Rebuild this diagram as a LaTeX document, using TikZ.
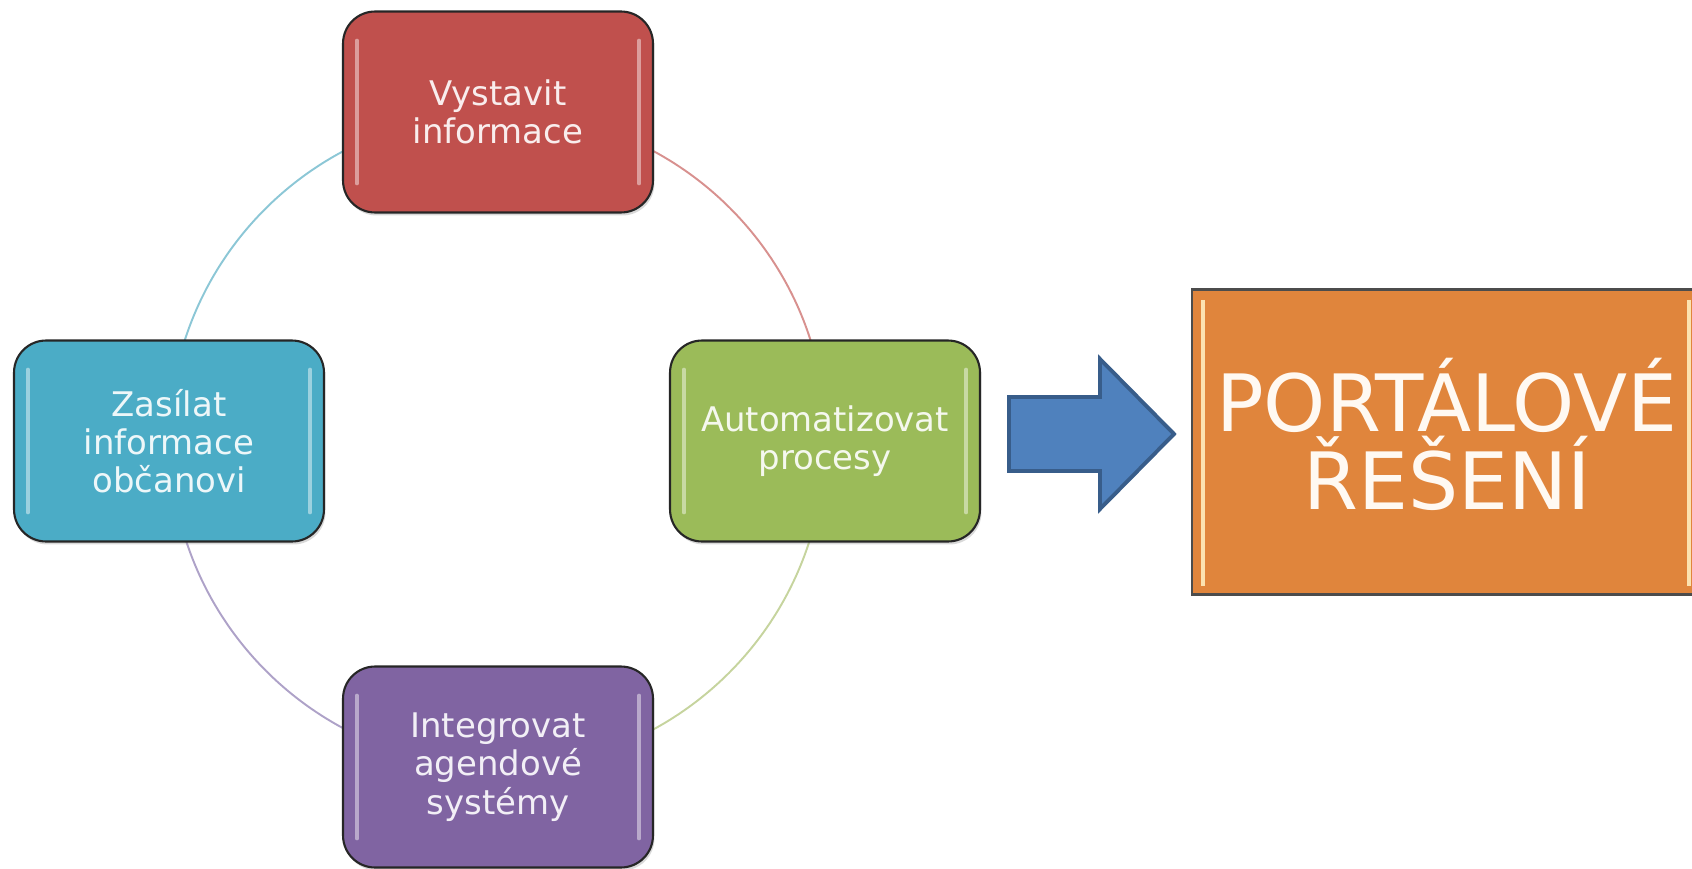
\documentclass[tikz,border=0pt]{standalone}
\usepackage{fontspec}
\setmainfont{DejaVu Sans}
\usetikzlibrary{shadows,backgrounds}

\definecolor{boxred}{HTML}{C0504D}
\definecolor{boxgreen}{HTML}{9BBB59}
\definecolor{boxpurple}{HTML}{8064A2}
\definecolor{boxblue}{HTML}{4BACC6}
\definecolor{boxorange}{HTML}{E0853C}
\definecolor{arrowfill}{HTML}{4F81BD}
\definecolor{arrowline}{HTML}{385D8A}
\definecolor{ringred}{HTML}{D8918F}
\definecolor{ringgreen}{HTML}{C6D49E}
\definecolor{ringpurple}{HTML}{AEA2C8}
\definecolor{ringblue}{HTML}{8CC7D6}
\definecolor{creamline}{HTML}{FCE2B0}

\tikzset{
  cyclebox/.style={draw=black!85, line width=1.2pt, rounded corners=0.64cm,
    minimum width=6.2cm, minimum height=4.02cm, align=center,
    font=\fontsize{19.3}{21.8}\selectfont, fill=#1, text=white!90!#1,
    drop shadow={opacity=0.3, shadow xshift=0.03cm, shadow yshift=-0.06cm}},
  shine/.style={white, opacity=0.45, line width=2pt, line cap=round},
  ring/.style={line width=1.1pt},
}

\begin{document}
\begin{tikzpicture}[x=0.02cm, y=-0.02cm]

    % Fix the page to the reference size (pixels, y downwards)
    \useasboundingbox (0,0) rectangle (1692,868);

    % Draw the four cycle boxes
    \node[cyclebox=boxred] (vystavit) at (498,112) {Vystavit\\informace};
    \node[cyclebox=boxgreen] (automat) at (825,441) {Automatizovat\\procesy};
    \node[cyclebox=boxpurple] (integr) at (498,767) {Integrovat\\agendové\\systémy};
    \node[cyclebox=boxblue] (zasilat) at (169,441) {Zasílat\\informace\\občanovi};

    % Glossy edges on the boxes
    \foreach \n in {vystavit,automat,integr,zasilat}{
        \draw[shine] ([xshift=0.3cm,yshift=-0.6cm]\n.north west) -- ([xshift=0.3cm,yshift=0.6cm]\n.south west);
        \draw[shine] ([xshift=-0.3cm,yshift=-0.6cm]\n.north east) -- ([xshift=-0.3cm,yshift=0.6cm]\n.south east);
    }

    % Draw the ring behind the boxes
    \begin{scope}[on background layer]
        \draw[ring, ringred] (vystavit.center) arc[start angle=-90, end angle=0, radius=328];
        \draw[ring, ringgreen] (automat.center) arc[start angle=0, end angle=90, radius=328];
        \draw[ring, ringpurple] (integr.center) arc[start angle=90, end angle=180, radius=328];
        \draw[ring, ringblue] (zasilat.center) arc[start angle=180, end angle=270, radius=328];
    \end{scope}

    % Draw the block arrow
    \draw[arrowline, fill=arrowfill, line width=2.2pt, line join=miter]
        (1009,397) -- (1100,397) -- (1100,359) -- (1174,434) -- (1100,509)
        -- (1100,471) -- (1009,471) -- cycle;

    % Draw the result box and label
    \node[draw=black!70, line width=1.2pt, fill=boxorange, minimum width=10.2cm,
        minimum height=6.1cm] (portal) at (1447,442) {};
    \node[align=center, text=white!95!orange, font=\fontsize{45}{44.4}\selectfont]
        (portaltext) at (1447,434) {PORTÁLOVÉ\\ŘEŠENÍ};
    \draw[creamline, line width=2pt] ([xshift=0.24cm,yshift=-0.24cm]portal.north west) -- ([xshift=0.24cm,yshift=0.2cm]portal.south west);
    \draw[creamline, line width=2pt] ([xshift=-0.28cm,yshift=-0.24cm]portal.north east) -- ([xshift=-0.28cm,yshift=0.2cm]portal.south east);
\end{tikzpicture}
\end{document}
